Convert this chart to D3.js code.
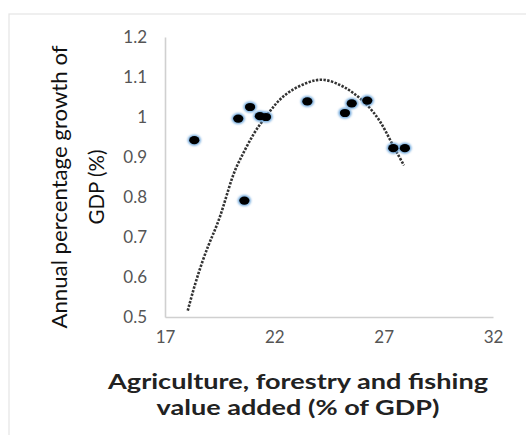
<!DOCTYPE html>
<html lang="en">
<head>
<meta charset="UTF-8">
<title>Agriculture vs GDP growth</title>
<script src="https://d3js.org/d3.v7.min.js"></script>
<style>
  body { margin: 0; background: #fff; }
  text { font-family: Lato, "Open Sans", sans-serif; }
</style>
</head>
<body>
<div id="chart"></div>
<script>
// data
const agriShare = [18.34, 20.35, 20.89, 21.34, 21.62, 20.63, 23.51, 25.23, 25.54, 26.25, 27.44, 27.97];
const gdpGrowth = [0.942, 0.996, 1.025, 1.002, 1.000, 0.791, 1.039, 1.010, 1.034, 1.041, 0.922, 0.922];

// trendline as drawn (dotted curve)
const trendX = [18.04, 18.45, 18.98, 19.52, 20.05, 20.51, 21.04, 21.57, 22.11, 22.72, 23.48, 24.24, 25.0, 25.61, 26.22, 26.83, 27.37, 27.93];
const trendY = [0.516, 0.595, 0.678, 0.752, 0.844, 0.902, 0.956, 0.998, 1.035, 1.064, 1.085, 1.093, 1.080, 1.060, 1.031, 0.989, 0.935, 0.879];

const xTicks = [17, 22, 27, 32];
const yTicks = [0.5, 0.6, 0.7, 0.8, 0.9, 1.0, 1.1, 1.2];

const width = 526, height = 435;
const margin = { top: 37, right: 33, bottom: 117, left: 165 };

const svg = d3.select("#chart").append("svg")
    .attr("width", width)
    .attr("height", height);

// blur for the dot glow
const defs = svg.append("defs");
defs.append("filter").attr("id", "glow")
    .attr("x", "-50%").attr("y", "-50%").attr("width", "200%").attr("height", "200%")
  .append("feGaussianBlur").attr("stdDeviation", 0.8);

// outer chart border
svg.append("rect")
    .attr("x", 9).attr("y", 14)
    .attr("width", 540).attr("height", 440)
    .attr("fill", "none")
    .attr("stroke", "#e4e4e4")
    .attr("stroke-width", 1.2);

const x = d3.scaleLinear().domain([17, 32]).range([margin.left, width - margin.right]);
const y = d3.scaleLinear().domain([0.5, 1.2]).range([height - margin.bottom - 1, margin.top]);

// x axis
const xAxis = svg.append("g")
    .attr("transform", `translate(0,${y(0.5)})`)
    .call(d3.axisBottom(x).tickValues(xTicks).tickSize(0).tickPadding(14).tickFormat(d3.format("d")));
xAxis.select(".domain").attr("stroke", "#d0d0d0").attr("stroke-width", 1.6);
xAxis.selectAll("text").attr("font-size", 17).attr("fill", "#555")
    .style("font-family", "Lato, sans-serif");

// y axis
const yAxis = svg.append("g")
    .attr("transform", `translate(${x(17)},0)`)
    .call(d3.axisLeft(y).tickValues(yTicks).tickSize(0).tickPadding(18).tickFormat(d => d === 1 ? "1" : d3.format(".1f")(d)));
yAxis.select(".domain").attr("stroke", "#d0d0d0").attr("stroke-width", 1.6);
yAxis.selectAll("text").attr("font-size", 17).attr("fill", "#555")
    .style("font-family", "Lato, sans-serif");

// trendline
const trend = trendX.map((d, i) => ({ x: d, y: trendY[i] }));
svg.append("path")
    .datum(trend)
    .attr("fill", "none")
    .attr("stroke", "#333")
    .attr("stroke-width", 2.6)
    .attr("stroke-dasharray", "2.4,1.4")
    .attr("d", d3.line().x(d => x(d.x)).y(d => y(d.y)).curve(d3.curveNatural));

// points
const pts = agriShare.map((d, i) => ({ x: d, y: gdpGrowth[i] }));
svg.selectAll(".halo")
    .data(pts)
    .enter()
    .append("ellipse")
    .attr("class", "halo")
    .attr("cx", d => x(d.x))
    .attr("cy", d => y(d.y))
    .attr("rx", 6.6)
    .attr("ry", 5.5)
    .attr("fill", "#6fa8dc")
    .attr("filter", "url(#glow)");
svg.selectAll(".dot")
    .data(pts)
    .enter()
    .append("ellipse")
    .attr("class", "dot")
    .attr("cx", d => x(d.x))
    .attr("cy", d => y(d.y))
    .attr("rx", 5.1)
    .attr("ry", 4.1)
    .attr("fill", "#000");

// axis titles
const xTitle = svg.append("text")
    .attr("text-anchor", "middle")
    .attr("font-size", 21.5)
    .attr("font-weight", "bold")
    .attr("fill", "#222");
xTitle.append("tspan").attr("x", 298).attr("y", 389)
    .attr("textLength", 380).attr("lengthAdjust", "spacingAndGlyphs")
    .text("Agriculture, forestry and fishing");
xTitle.append("tspan").attr("x", 298).attr("y", 415)
    .attr("textLength", 283).attr("lengthAdjust", "spacingAndGlyphs")
    .text("value added (% of GDP)");

const yTitle = svg.append("text")
    .attr("text-anchor", "middle")
    .attr("transform", "translate(0,187) rotate(-90)")
    .attr("font-size", 21.5)
    .attr("fill", "#111");
yTitle.append("tspan").attr("x", 0).attr("y", 67)
    .attr("textLength", 283).attr("lengthAdjust", "spacingAndGlyphs")
    .text("Annual percentage growth of");
yTitle.append("tspan").attr("x", 0).attr("y", 104)
    .attr("textLength", 75).attr("lengthAdjust", "spacingAndGlyphs")
    .text("GDP (%)");
</script>
</body>
</html>
